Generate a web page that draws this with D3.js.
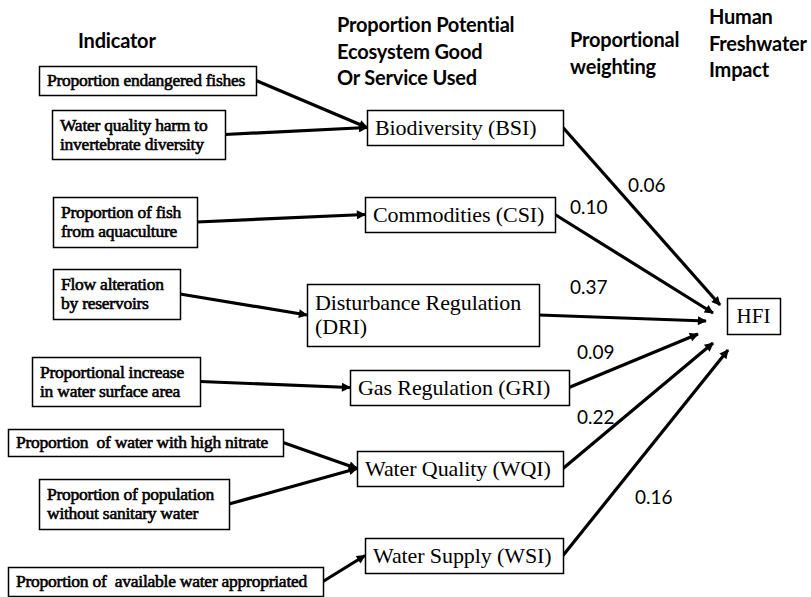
<!DOCTYPE html>
<html>
<head>
<meta charset="utf-8">
<script src="https://cdn.jsdelivr.net/npm/d3@7"></script>
<style>
  html, body { margin: 0; padding: 0; background: #fff; }
  svg { display: block; }
</style>
</head>
<body>
<div id="chart"></div>
<script>
// ---- data ----
const headers = [
  ["Indicator"],
  ["Proportion Potential", "Ecosystem Good", "Or Service Used"],
  ["Proportional", "weighting"],
  ["Human", "Freshwater", "Impact"]
];

const services = [
  { id: "BSI", label: ["Biodiversity (BSI)"] },
  { id: "CSI", label: ["Commodities (CSI)"] },
  { id: "DRI", label: ["Disturbance Regulation", "(DRI)"] },
  { id: "GRI", label: ["Gas Regulation (GRI)"] },
  { id: "WQI", label: ["Water Quality (WQI)"] },
  { id: "WSI", label: ["Water Supply (WSI)"] }
];

const weights = [0.06, 0.10, 0.37, 0.09, 0.22, 0.16];

const indicators = [
  { label: ["Proportion endangered fishes"], target: "BSI" },
  { label: ["Water quality harm to", "invertebrate diversity"], target: "BSI" },
  { label: ["Proportion of fish", "from aquaculture"], target: "CSI" },
  { label: ["Flow alteration", "by reservoirs"], target: "DRI" },
  { label: ["Proportional increase", "in water surface area"], target: "GRI" },
  { label: ["Proportion  of water with high nitrate"], target: "WQI" },
  { label: ["Proportion of population", "without sanitary water"], target: "WQI" },
  { label: ["Proportion of  available water appropriated"], target: "WSI" }
];

const outcome = { id: "HFI", label: ["HFI"] };

// ---- layout (box geometry for the diagram) ----
const W = 811, H = 597;
const headerPos = [
  { x: 78, y: 48 }, { x: 337, y: 32 }, { x: 570, y: 47 }, { x: 709, y: 24 }
];
const headerLine = 26.5;

const indicatorBoxes = [
  [39, 66, 256, 95], [52, 110, 225, 159], [53, 197, 197, 247], [53, 269, 180, 319],
  [32, 357, 200, 406], [8, 429, 283, 456], [39, 479, 229, 529], [8, 567, 323, 596]
];
const serviceBoxes = [
  [367, 110, 563, 145], [365, 197, 555, 232], [307, 284, 539, 346],
  [350, 370, 569, 405], [357, 451, 563, 486], [365, 538, 563, 573]
];
const hfiBox = [727, 298, 780, 334];
// where each weighting arrow touches down near HFI
const hfiPorts = [[720, 305], [713, 313], [706, 321], [698, 334], [713, 343], [728, 350]];
const weightPos = [[628, 192], [570, 214], [570, 294], [577, 359], [577, 424], [635, 504]];

const svg = d3.select("#chart").append("svg")
  .attr("width", W)
  .attr("height", H)
  .attr("viewBox", [0, 0, W, H]);

svg.append("defs").append("marker")
  .attr("id", "arrow")
  .attr("viewBox", "0 0 10 10")
  .attr("refX", 9)
  .attr("refY", 5)
  .attr("markerUnits", "userSpaceOnUse")
  .attr("markerWidth", 11)
  .attr("markerHeight", 9)
  .attr("orient", "auto")
  .append("path")
  .attr("d", "M0,0L10,5L0,10z")
  .attr("fill", "#000");

const sansFont = "Lato, 'Open Sans', sans-serif";
const serifFont = "'Liberation Serif', 'DejaVu Serif', serif";

// headers
const hdr = svg.append("g").attr("class", "headers")
  .selectAll("text")
  .data(headers)
  .join("text")
  .attr("x", (d, i) => headerPos[i].x)
  .attr("y", (d, i) => headerPos[i].y)
  .attr("font-family", sansFont)
  .attr("font-weight", "bold")
  .attr("font-size", 20)
  .attr("letter-spacing", -0.2)
  .attr("fill", "#000");
hdr.selectAll("tspan")
  .data((d, i) => d.map(t => ({ t, x: headerPos[i].x })))
  .join("tspan")
  .attr("x", d => d.x)
  .attr("dy", (d, j) => j === 0 ? 0 : headerLine)
  .text(d => d.t);

// boxes helper
function drawBoxes(g, items, boxes, opts) {
  const node = g.selectAll("g")
    .data(items)
    .join("g");
  node.append("rect")
    .attr("x", (d, i) => boxes[i][0] + 0.5)
    .attr("y", (d, i) => boxes[i][1] + 0.5)
    .attr("width", (d, i) => boxes[i][2] - boxes[i][0])
    .attr("height", (d, i) => boxes[i][3] - boxes[i][1])
    .attr("fill", "#fff")
    .attr("stroke", "#000")
    .attr("stroke-width", 1.5);
  node.each(function (d, i) {
    const b = boxes[i];
    const n = d.label.length;
    const cy = (b[1] + b[3]) / 2;
    const txt = d3.select(this).append("text")
      .attr("font-family", serifFont)
      .attr("font-size", opts.size)
      .attr("fill", "#000")
      .attr("stroke", opts.bold ? "#000" : "none")
      .attr("stroke-width", opts.bold ? 0.6 : 0)
      .attr("letter-spacing", opts.spacing)
      .attr("text-anchor", opts.anchor);
    txt.selectAll("tspan")
      .data(d.label)
      .join("tspan")
      .attr("x", opts.anchor === "middle" ? (b[0] + b[2]) / 2 : b[0] + opts.pad)
      .attr("y", (t, j) => cy + (j - (n - 1) / 2) * opts.line + opts.size * 0.33)
      .attr("xml:space", "preserve")
      .text(t => t);
  });
}

// arrows: indicator -> service
const svcIndex = new Map(services.map((s, i) => [s.id, i]));
const links = indicators.map((d, i) => {
  const s = indicatorBoxes[i];
  const t = serviceBoxes[svcIndex.get(d.target)];
  return { x1: s[2], y1: (s[1] + s[3]) / 2, x2: t[0], y2: (t[1] + t[3]) / 2 };
});
const weightLinks = services.map((d, i) => {
  const s = serviceBoxes[i];
  return { x1: s[2], y1: (s[1] + s[3]) / 2, x2: hfiPorts[i][0], y2: hfiPorts[i][1] };
});

svg.append("g").attr("class", "links")
  .selectAll("line")
  .data(links.concat(weightLinks))
  .join("line")
  .attr("x1", d => d.x1)
  .attr("y1", d => d.y1)
  .attr("x2", d => d.x2)
  .attr("y2", d => d.y2)
  .attr("stroke", "#000")
  .attr("stroke-width", 3.2)
  .attr("marker-end", "url(#arrow)");

drawBoxes(svg.append("g").attr("class", "indicators"), indicators, indicatorBoxes,
  { bold: true, size: 17.5, line: 19, pad: 8, anchor: "start", spacing: -0.25 });
drawBoxes(svg.append("g").attr("class", "services"), services, serviceBoxes,
  { bold: false, size: 22, line: 24, pad: 8, anchor: "start", spacing: -0.1 });
drawBoxes(svg.append("g").attr("class", "outcome"), [outcome], [hfiBox],
  { bold: false, size: 21, line: 24, pad: 0, anchor: "middle", spacing: 0 });

// weighting labels
const fmt = d3.format(".2f");
svg.append("g").attr("class", "weights")
  .selectAll("text")
  .data(weights)
  .join("text")
  .attr("x", (d, i) => weightPos[i][0])
  .attr("y", (d, i) => weightPos[i][1])
  .attr("font-family", sansFont)
  .attr("font-size", 19)
  .attr("fill", "#000")
  .text(d => fmt(d));
</script>
</body>
</html>
